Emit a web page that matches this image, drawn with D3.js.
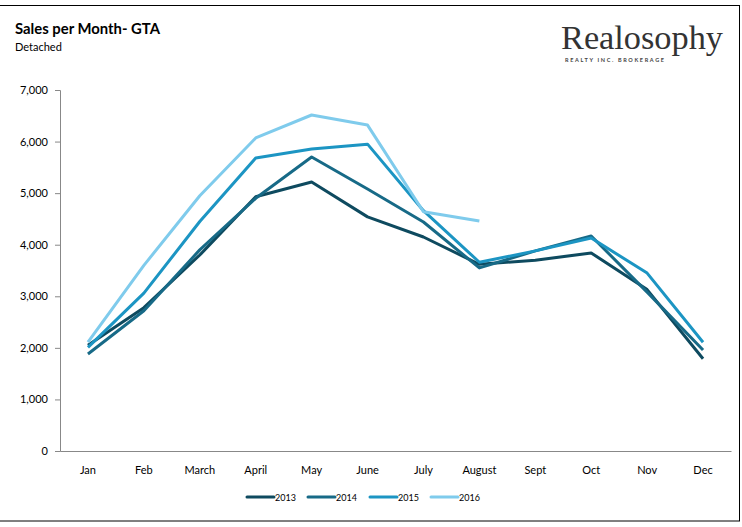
<!DOCTYPE html>
<html><head><meta charset="utf-8">
<script src="https://cdn.jsdelivr.net/npm/d3@7"></script>
<style>body{margin:0;background:#fff;}svg{display:block;font-family:"Lato","Open Sans",sans-serif;}</style>
</head><body><svg id="c" width="742" height="527"></svg>
<script>
const months = ["Jan","Feb","March","April","May","June","July","August","Sept","Oct","Nov","Dec"];
const years = ["2013","2014","2015","2016"];
const s2013 = [2050,2780,3800,4930,5215,4540,4150,3620,3700,3840,3130,1790];
const s2014 = [1880,2720,3900,4900,5700,5080,4440,3550,3880,4170,3080,1960];
const s2015 = [2010,3060,4450,5680,5855,5950,4660,3660,3880,4130,3450,2110];
const s2016 = [2110,3600,4950,6070,6515,6320,4640,4460];
const colors = ["#0e4a5f","#176a87","#1c95c3","#7fcbec"];
const yTicks = [0,1000,2000,3000,4000,5000,6000,7000];

const series = [s2013,s2014,s2015,s2016];
const svg = d3.select("#c");

// frame
svg.append("rect").attr("x",-2).attr("y",5.5).attr("width",741.5).attr("height",515.5)
  .attr("fill","none").attr("stroke","#000").attr("stroke-width",1);

// title
svg.append("text").attr("x",15).attr("y",34).attr("font-size",14.5).attr("font-weight","bold")
  .attr("fill","#000").attr("textLength",145).attr("lengthAdjust","spacingAndGlyphs").text("Sales per Month- GTA");
svg.append("text").attr("x",15).attr("y",51).attr("font-size",11).attr("fill","#000").text("Detached");

// logo
svg.append("text").attr("x",561).attr("y",49).attr("font-size",33).attr("font-family","'Liberation Serif','DejaVu Serif',serif")
  .attr("fill","#333").attr("textLength",162).attr("lengthAdjust","spacingAndGlyphs").text("Realosophy");
svg.append("text").attr("x",565).attr("y",62).attr("font-size",5.5).attr("font-weight","bold")
  .attr("fill","#444").attr("textLength",100).attr("letter-spacing",1).text("REALTY INC. BROKERAGE");

const x = d3.scaleBand().domain(months).range([60,731]);
const y = d3.scaleLinear().domain([0,7000]).range([451,90]);

const yAxis = svg.append("g").attr("transform","translate(60,0)")
  .call(d3.axisLeft(y).tickValues(yTicks).tickSize(5).tickPadding(7).tickFormat(d3.format(",")));
yAxis.selectAll("path,line").attr("stroke","#888");
yAxis.selectAll("text").attr("font-size",11).attr("fill","#000").attr("font-family","'Lato','Open Sans',sans-serif");

const xAxis = svg.append("g").attr("transform","translate(0,451)")
  .call(d3.axisBottom(x).tickSize(0).tickPadding(15).tickSizeOuter(0));
xAxis.select("path").attr("stroke","#888");
xAxis.selectAll("text").attr("font-size",11).attr("fill","#000").attr("font-family","'Lato','Open Sans',sans-serif");

const line = d3.line().x((d,i)=>x(months[i])+x.bandwidth()/2).y(d=>y(d));
series.forEach((s,k)=>{
  svg.append("path").datum(s).attr("d",line).attr("fill","none")
    .attr("stroke",colors[k]).attr("stroke-width",3).attr("stroke-linejoin","round");
});

// legend
const legX = [247,308,370,431];
years.forEach((yr,k)=>{
  const g = svg.append("g").attr("transform",`translate(${legX[k]},497)`);
  g.append("line").attr("x1",0).attr("x2",27).attr("stroke",colors[k]).attr("stroke-width",3).attr("stroke-linecap","round");
  g.append("text").attr("x",28).attr("y",3.5).attr("font-size",9).attr("fill","#000").text(yr);
});
</script></body></html>
